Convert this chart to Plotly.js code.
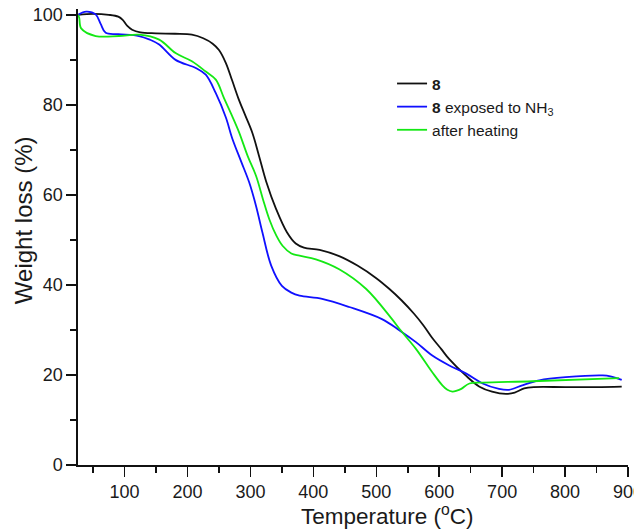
<!DOCTYPE html>
<html>
<head>
<meta charset="utf-8">
<script src="https://cdn.plot.ly/plotly-3.0.1.min.js"></script>
<style>html,body{margin:0;padding:0;background:#fff;}#chart{width:634px;height:531px;}</style>
</head>
<body>
<div id="chart"></div>
<script>
// Sample 8
const tempBlack = [26, 50, 75, 90, 97, 104, 112, 125, 150, 180, 207, 225, 240, 250, 261, 271, 281, 292, 303, 314, 325, 341, 358, 372, 385, 410, 441, 470, 500, 520, 540, 560, 575, 589, 603, 616, 642, 664, 684, 706, 720, 735, 750, 800, 850, 890];
const weightBlack = [100, 100.2, 100, 99.6, 98.9, 97.6, 96.7, 96.1, 95.9, 95.8, 95.6, 94.8, 93.6, 92.2, 89.3, 85.4, 81.4, 77.6, 73.8, 68.5, 63, 56.8, 51.7, 49.2, 48.3, 47.8, 46.4, 44.3, 41.5, 39.2, 36.6, 33.6, 31, 28.2, 25.8, 23.5, 19.9, 17.4, 16.3, 15.8, 16.1, 17, 17.3, 17.3, 17.3, 17.4];

// 8 exposed to NH3
const tempBlue = [26, 39, 54, 62, 70, 90, 123, 140, 155, 181, 213, 229, 245, 261, 271, 285, 298, 309, 319, 333, 350, 365, 378, 414, 457, 509, 537, 563, 589, 616, 643, 669, 695, 711, 732, 759, 801, 860, 872, 890];
const weightBlue = [100, 100.7, 100.1, 98, 96, 95.7, 95.3, 94.5, 93.4, 90, 88.2, 86.7, 82.6, 77.2, 72.6, 67.5, 62.8, 57.5, 51.7, 44.3, 39.8, 38.3, 37.6, 36.9, 35.1, 32.4, 29.9, 27.3, 24.3, 22.1, 20.3, 18.1, 16.9, 16.7, 17.7, 18.8, 19.5, 19.9, 19.7, 18.9];

// after heating
const tempGreen = [26, 28, 31, 54, 91, 123, 155, 181, 207, 229, 245, 258, 271, 282, 296, 309, 320, 330, 341, 351, 365, 378, 404, 441, 484, 525, 537, 563, 589, 605, 613, 621, 628, 635, 648, 669, 748, 886];
const weightGreen = [100, 99.3, 97, 95.3, 95.3, 95.6, 94.5, 91.5, 89.7, 87.4, 85.6, 81.5, 77.5, 73.9, 68.5, 64.2, 59, 54.6, 51, 48.7, 47, 46.5, 45.7, 43.5, 39.1, 32.4, 30.2, 25.8, 20.6, 17.7, 16.7, 16.3, 16.5, 16.9, 18.1, 18.3, 18.6, 19.3];

const seriesNames = ["<b>8</b>", "<b>8</b> exposed to NH<sub>3</sub>", "after heating"];
const xTickVals = [100, 200, 300, 400, 500, 600, 700, 800, 900];
const yTickVals = [0, 20, 40, 60, 80, 100];

const FONT = "Liberation Sans, Arial, sans-serif";
const lineCommon = {width: 1.8, shape: "spline", smoothing: 1.0};

const traces = [
  {x: tempBlack, y: weightBlack, name: seriesNames[0], mode: "lines", line: Object.assign({color: "#111111"}, lineCommon)},
  {x: tempBlue, y: weightBlue, name: seriesNames[1], mode: "lines", line: Object.assign({color: "#1010ff"}, lineCommon)},
  {x: tempGreen, y: weightGreen, name: seriesNames[2], mode: "lines", line: Object.assign({color: "#14e814"}, lineCommon)}
];

const layout = {
  width: 634, height: 531,
  margin: {l: 78, r: 6, t: 9, b: 66},
  paper_bgcolor: "#fff", plot_bgcolor: "#fff",
  font: {family: FONT, color: "#1a1a1a"},
  showlegend: true,
  legend: {x: 0.571, y: 0.873, xanchor: "left", yanchor: "top", bgcolor: "rgba(0,0,0,0)",
           font: {size: 15.5, family: FONT, color: "#1a1a1a"}, tracegroupgap: 0},
  xaxis: {
    range: [26, 900], showgrid: false, zeroline: false,
    showline: true, linecolor: "#111", linewidth: 1.6, mirror: false,
    ticks: "outside", ticklen: 10, tickwidth: 1.5, tickcolor: "#111",
    ticklabeloverflow: "allow",
    tickvals: xTickVals, tickfont: {size: 18, family: FONT, color: "#1a1a1a"},
    minor: {dtick: 50, tick0: 0, ticks: "outside", ticklen: 6, tickwidth: 1.5, tickcolor: "#111", showgrid: false}
  },
  yaxis: {
    range: [0, 101.3], showgrid: false, zeroline: false,
    showline: true, linecolor: "#111", linewidth: 1.6, mirror: false,
    ticks: "outside", ticklen: 10, tickwidth: 1.5, tickcolor: "#111",
    ticklabeloverflow: "allow",
    tickvals: yTickVals, tickfont: {size: 18, family: FONT, color: "#1a1a1a"},
    minor: {dtick: 10, tick0: 0, ticks: "outside", ticklen: 6, tickwidth: 1.5, tickcolor: "#111", showgrid: false}
  },
  annotations: [
    {text: "Temperature (<sup>o</sup>C)", xref: "paper", yref: "paper", x: 0.562, y: -0.1445,
     xanchor: "center", yanchor: "bottom", showarrow: false, font: {size: 22.5, family: FONT, color: "#1a1a1a"}},
    {text: "Weight loss (%)", xref: "paper", yref: "paper", x: -0.1, y: 0.537, textangle: -90,
     xanchor: "center", yanchor: "middle", showarrow: false, font: {size: 24, family: FONT, color: "#1a1a1a"}}
  ]
};

Plotly.newPlot("chart", traces, layout, {displayModeBar: false, staticPlot: true});
</script>
</body>
</html>
